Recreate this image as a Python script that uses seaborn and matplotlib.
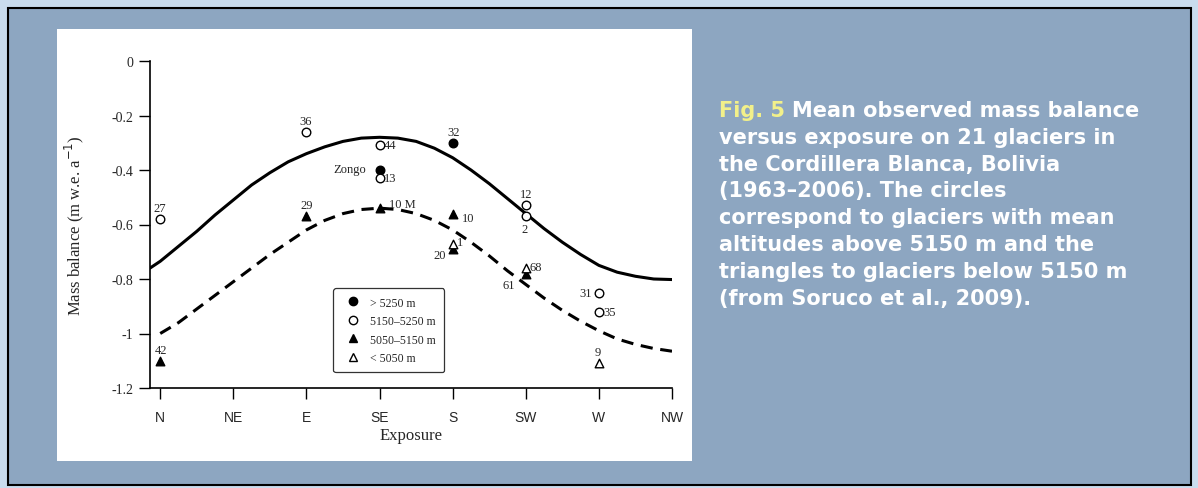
import matplotlib
matplotlib.use("Agg")
import matplotlib.pyplot as plt
import seaborn as sns
import pandas as pd
from matplotlib.patches import Rectangle
from matplotlib.lines import Line2D

sns.set_theme(style="white")
plt.rcParams['font.family'] = ['Liberation Serif', 'DejaVu Serif']

directions = ["N", "NE", "E", "SE", "S", "SW", "W", "NW"]
curve_x = [-0.14, 0, 0.25, 0.5, 0.75, 1, 1.25, 1.5, 1.75, 2, 2.25, 2.5, 2.75, 3, 3.25, 3.5, 3.75,
           4, 4.25, 4.5, 4.75, 5, 5.25, 5.5, 5.75, 6, 6.25, 6.5, 6.75, 7]
solid_y = [-0.76, -0.735, -0.68, -0.625, -0.565, -0.51, -0.455, -0.41, -0.37, -0.34, -0.315, -0.295, -0.283,
           -0.28, -0.283, -0.295, -0.32, -0.355, -0.40, -0.45, -0.505, -0.56, -0.615, -0.665, -0.71,
           -0.75, -0.775, -0.79, -0.80, -0.802]
dashed_y = [-1.015, -1.0, -0.96, -0.91, -0.86, -0.81, -0.76, -0.71, -0.665, -0.62, -0.585, -0.56, -0.545,
            -0.54, -0.545, -0.56, -0.585, -0.62, -0.665, -0.715, -0.77, -0.82, -0.87, -0.915, -0.955,
            -0.99, -1.02, -1.04, -1.055, -1.065]

pt_x = [4, 3, 2, 0, 3, 3, 5, 5, 6, 6, 0, 2, 3, 4, 4, 5, 4, 5, 6]
pt_y = [-0.30, -0.40, -0.26, -0.58, -0.31, -0.43, -0.53, -0.57, -0.85, -0.92,
        -1.10, -0.57, -0.54, -0.56, -0.69, -0.78, -0.67, -0.76, -1.11]
pt_group = ["> 5250 m"]*2 + ["5150–5250 m"]*8 + ["5050–5150 m"]*6 + ["< 5050 m"]*3
pt_label = ["32", "Zongo", "36", "27", "44", "13", "12", "2", "31", "35",
            "42", "29", "10 M", "10", "20", "61", "1", "68", "9"]
label_off = [(-4, 8), (-33, 1), (-5, 8), (-5, 8), (3, 0), (3, 0), (-4, 8), (-3, -9), (-14, 0), (3, 0),
             (-4, 8), (-4, 8), (7, 3), (7, -3), (-14, -4), (-17, -8), (3, 1), (3, 1), (-3, 8)]

df = pd.DataFrame({"x": pt_x, "y": pt_y, "g": pt_group})
styles = {"> 5250 m": ("o", "black", "black"),
          "5150–5250 m": ("o", "white", "black"),
          "5050–5150 m": ("^", "black", "black"),
          "< 5050 m": ("^", "white", "black")}

fig = plt.figure(figsize=(11.98, 4.89), dpi=100)
fig.patch.set_facecolor("#c9dcee")
W, H = 1198, 489
def fr(x0, y0, x1, y1):
    return (x0 / W, 1 - y1 / H, (x1 - x0) / W, (y1 - y0) / H)
r = fr(8, 9, 1191, 486)
fig.patches.append(Rectangle(r[:2], r[2], r[3], transform=fig.transFigure, facecolor="#8da6c1",
                             edgecolor="black", lw=1.5, zorder=-10))
r = fr(57, 30, 692, 462)
fig.patches.append(Rectangle(r[:2], r[2], r[3], transform=fig.transFigure, facecolor="white",
                             edgecolor="none", zorder=-9))

ax = fig.add_axes(fr(150, 62, 672, 389))
ax.set_facecolor("none")
sns.lineplot(x=curve_x, y=solid_y, ax=ax, color="black", lw=2.2)
sns.lineplot(x=curve_x[1:], y=dashed_y[1:], ax=ax, color="black", lw=2.2, linestyle=(0, (4, 2.5)))
for g, (m, fc, ec) in styles.items():
    sub = df[df.g == g]
    sns.scatterplot(data=sub, x="x", y="y", ax=ax, marker=m, color=fc, edgecolor=ec, linewidth=1.0, s=38, zorder=5)
for x, y, t, (dx, dy) in zip(pt_x, pt_y, pt_label, label_off):
    ax.annotate(t, (x, y), xytext=(dx, dy), textcoords="offset points", fontsize=9, va="center", ha="left")

ax.set_xlim(-0.14, 7)
ax.set_ylim(-1.2, 0)
ax.set_xticks(range(8))
ax.set_xticklabels(directions, family="Liberation Sans", fontsize=10)
ax.set_yticks([0, -0.2, -0.4, -0.6, -0.8, -1.0, -1.2])
ax.set_yticklabels(["0", "-0.2", "-0.4", "-0.6", "-0.8", "-1", "-1.2"], fontsize=10)
ax.tick_params(direction="out", length=8, width=1, color="black", bottom=True, left=True, pad=4)
ax.tick_params(axis="x", pad=8)
for s in ["top", "right"]:
    ax.spines[s].set_visible(False)
for s in ["left", "bottom"]:
    ax.spines[s].set_color("black"); ax.spines[s].set_linewidth(1.2)
ax.set_xlabel("Exposure", fontsize=12, labelpad=2)
ax.set_ylabel("Mass balance (m w.e. a$^{-1}$)", fontsize=12, labelpad=18)

handles = [Line2D([], [], marker=m, color="none", markerfacecolor=fc, markeredgecolor=ec, markersize=6)
           for (m, fc, ec) in styles.values()]
leg = ax.legend(handles, list(styles.keys()), loc="lower left", bbox_to_anchor=(0.34, 0.03),
                fontsize=8.5, frameon=True, fancybox=True, edgecolor="black", handletextpad=0.4,
                labelspacing=0.55, borderpad=0.7)
leg.get_frame().set_linewidth(0.9)

tx = 719 / W
lines = ["Mean observed mass balance", "versus exposure on 21 glaciers in",
         "the Cordillera Blanca, Bolivia", "(1963–2006). The circles",
         "correspond to glaciers with mean", "altitudes above 5150 m and the",
         "triangles to glaciers below 5150 m", "(from Soruco et al., 2009)."]
y0 = 111
fs = 15.0
for i, ln in enumerate(lines):
    yy = 1 - (y0 + i * 26.8) / H
    if i == 0:
        fig.text(tx, yy, "Fig. 5", color="#f2f08a", fontsize=fs, fontweight="bold", family="DejaVu Sans", va="center")
        fig.text(tx + 73 / W, yy, ln, color="white", fontsize=fs, fontweight="bold", family="DejaVu Sans", va="center")
    else:
        fig.text(tx, yy, ln, color="white", fontsize=fs, fontweight="bold", family="DejaVu Sans", va="center")

fig.savefig("out.png", dpi=100, facecolor=fig.get_facecolor())
